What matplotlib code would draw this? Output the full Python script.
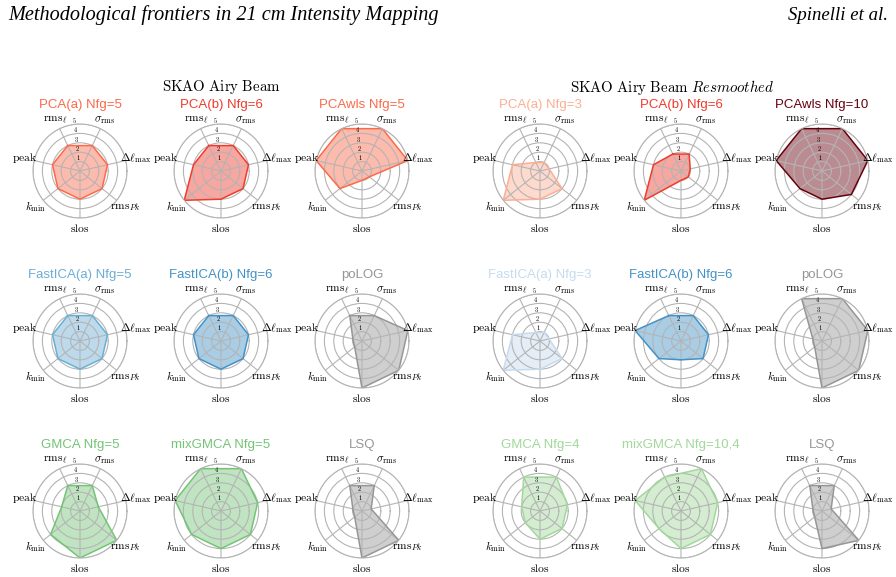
import numpy as np
import matplotlib
matplotlib.use('Agg')
from matplotlib import pyplot as plt

plt.rcParams['mathtext.fontset'] = 'cm'

# axis names, clockwise starting top-left
metrics = [r'$\mathrm{rms}_\ell$', r'$\sigma_{\rm rms}$', r'$\Delta\ell_{\rm max}$',
           r'$\mathrm{rms}_{Pk}$', r'$\mathrm{slos}$', r'$k_{\rm min}$', r'$\mathrm{peak}$']
ring_levels = [1, 2, 3, 4, 5]

# left group: SKAO Airy Beam
titles_left = ['PCA(a) Nfg=5', 'PCA(b) Nfg=6', 'PCAwls Nfg=5',
               'FastICA(a) Nfg=5', 'FastICA(b) Nfg=6', 'poLOG',
               'GMCA Nfg=5', 'mixGMCA Nfg=5', 'LSQ']
colors_left = ['#fb6a4a', '#ef3b2c', '#fb6a4a',
               '#6baed6', '#4292c6', '#969696',
               '#74c476', '#74c476', '#969696']
scores_left = [
    [3, 3, 3, 3, 3, 3, 3],
    [3, 3, 3, 3, 3, 5, 3],
    [5, 5, 5, 1, 1, 3, 5],
    [3, 3, 3, 3, 3, 3, 3],
    [3, 3, 3, 3, 3, 3, 3],
    [3, 3, 5, 5, 5, 1, 1],
    [3, 3, 2, 5, 5, 4, 2],
    [5, 5, 4, 4, 4, 4, 5],
    [3, 3, 1, 5, 5, 1, 1],
]

# right group: SKAO Airy Beam Resmoothed
titles_right = ['PCA(a) Nfg=3', 'PCA(b) Nfg=6', 'PCAwls Nfg=10',
                'FastICA(a) Nfg=3', 'FastICA(b) Nfg=6', 'poLOG',
                'GMCA Nfg=4', 'mixGMCA Nfg=10,4', 'LSQ']
colors_right = ['#fcae91', '#ef3b2c', '#67000d',
                '#c6dbef', '#4292c6', '#969696',
                '#a1d99b', '#a1d99b', '#969696']
scores_right = [
    [1, 1, 1, 3, 3, 5, 3],
    [2, 2, 1, 1, 1, 5, 3],
    [5, 5, 5, 4, 3, 3, 5],
    [1, 1, 1, 3, 3, 5, 3],
    [3, 3, 3, 3, 2, 3, 5],
    [5, 5, 5, 5, 5, 1, 1],
    [4, 4, 3, 3, 3, 2, 2],
    [4, 5, 4, 4, 4, 3, 5],
    [3, 3, 1, 5, 4, 1, 1],
]

W, H = 896, 577
fig = plt.figure(figsize=(W / 100, H / 100), dpi=100)

n = len(metrics)
ang = np.deg2rad(115.7 - np.arange(n) * 360.0 / n) % (2 * np.pi)
R = 47  # pixel radius of the outer ring


def radar(cx, cy, title, color, vals):
    ax = fig.add_axes([(cx - R) / W, 1 - (cy + R) / H, 2 * R / W, 2 * R / H],
                      projection='polar')
    ax.set_xticks(ang)
    ax.set_xticklabels([])
    ax.set_thetalim(0, 2 * np.pi)
    ax.set_ylim(0, 5)
    ax.set_yticks(ring_levels)
    ax.set_yticklabels([])
    ax.grid(color='#b4b4b4', lw=0.8)
    ax.spines['polar'].set_color('#b4b4b4')
    ax.spines['polar'].set_linewidth(0.8)
    ax.patch.set_alpha(0)
    th = np.append(ang, ang[0])
    v = np.append(vals, vals[0])
    ax.fill(th, v, color=color, alpha=0.45, lw=0)
    ax.plot(th, v, color=color, lw=1.1)
    for a, lab in zip(ang, metrics):
        ax.text(a, 6.1, lab, ha='center', va='center', fontsize=8.3, clip_on=False)
    for lv in ring_levels:
        ax.text(np.deg2rad(97), lv + 0.35, str(lv), ha='center', va='center',
                fontsize=4.6, family='cmr10', clip_on=False)
    fig.text(cx / W, 1 - (cy - 66) / H, title, color=color, ha='center', va='center',
             fontsize=9.5, family='Liberation Sans')


cols_left = [80, 221, 362]
cols_right = [540, 681, 822]
rows = [171, 341, 511]
for k in range(9):
    r, c = divmod(k, 3)
    radar(cols_left[c], rows[r], titles_left[k], colors_left[k], scores_left[k])
    radar(cols_right[c], rows[r], titles_right[k], colors_right[k], scores_right[k])

fig.text(8 / W, 1 - 15 / H, 'Methodological frontiers in 21 cm Intensity Mapping',
         family='Liberation Serif', style='italic', fontsize=14.6, va='center')
fig.text(888 / W, 1 - 15 / H, 'Spinelli et al.', family='Liberation Serif',
         style='italic', fontsize=13.5, va='center', ha='right')
fig.text(221 / W, 1 - 87 / H, r'$\mathrm{SKAO\ Airy\ Beam}$', fontsize=10.7,
         ha='center', va='center')
fig.text(672 / W, 1 - 87 / H, r'$\mathrm{SKAO\ Airy\ Beam}\ \mathit{Resmoothed}$',
         fontsize=10.7, ha='center', va='center')

fig.savefig('out.png', dpi=100)
